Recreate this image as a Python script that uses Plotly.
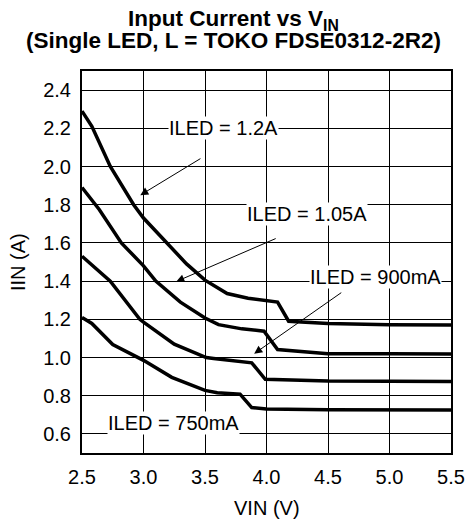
import plotly.graph_objects as go

# ---- data ----
vin_12 = [2.5, 2.58, 2.73, 2.92, 3.0, 3.19, 3.35, 3.5, 3.68, 3.85, 4.03, 4.09, 4.18, 4.5, 5.0, 5.5]
iin_12 = [2.29, 2.21, 2.0, 1.8, 1.73, 1.6, 1.49, 1.405, 1.335, 1.31, 1.294, 1.29, 1.19, 1.178, 1.172, 1.17]

vin_105 = [2.5, 2.64, 2.82, 3.0, 3.1, 3.3, 3.5, 3.61, 3.8, 3.98, 4.09, 4.5, 5.0, 5.5]
iin_105 = [1.89, 1.775, 1.6, 1.48, 1.40, 1.29, 1.207, 1.172, 1.15, 1.138, 1.042, 1.02, 1.019, 1.018]

vin_900 = [2.5, 2.58, 2.73, 2.97, 3.0, 3.25, 3.51, 3.57, 3.75, 3.88, 3.99, 4.5, 5.0, 5.5]
iin_900 = [1.53, 1.485, 1.4, 1.2, 1.185, 1.07, 1.0, 0.995, 0.98, 0.972, 0.886, 0.877, 0.876, 0.875]

vin_750 = [2.5, 2.58, 2.75, 2.96, 3.0, 3.23, 3.5, 3.6, 3.785, 3.88, 4.0, 4.5, 5.0, 5.5]
iin_750 = [1.21, 1.178, 1.068, 1.0, 0.985, 0.896, 0.828, 0.815, 0.808, 0.738, 0.73, 0.727, 0.726, 0.725]

series = [
    ("ILED = 1.2A", vin_12, iin_12),
    ("ILED = 1.05A", vin_105, iin_105),
    ("ILED = 900mA", vin_900, iin_900),
    ("ILED = 750mA", vin_750, iin_750),
]

x_ticks = [2.5, 3.0, 3.5, 4.0, 4.5, 5.0, 5.5]
x_tick_labels = ["2.5", "3.0", "3.5", "4.0", "4.5", "5.0", "5.5"]
y_ticks = [0.6, 0.8, 1.0, 1.2, 1.4, 1.6, 1.8, 2.0, 2.2, 2.4]
y_tick_labels = ["0.6", "0.8", "1.0", "1.2", "1.4", "1.6", "1.8", "2.0", "2.2", "2.4"]

title_line1 = "Input Current vs V<sub>IN</sub>"
title_line2 = "(Single LED, L = TOKO FDSE0312-2R2)"
x_title = "VIN (V)"
y_title = "IIN (A)"

# label text positions (x, y) and arrow (tail -> head), in data units
labels = [
    ("ILED = 1.2A", 3.648, 2.20),
    ("ILED = 1.05A", 4.326, 1.75),
    ("ILED = 900mA", 4.883, 1.42),
    ("ILED = 750mA", 3.246, 0.657),
]
arrows = [
    ((3.475, 2.046), (2.974, 1.85)),
    ((4.087, 1.626), (3.267, 1.398)),
    ((4.62, 1.345), (3.90, 1.02)),
]

FONT = "Liberation Sans, Arial, Helvetica, sans-serif"

fig = go.Figure()
for name, xs, ys in series:
    fig.add_trace(go.Scatter(x=xs, y=ys, mode="lines", name=name,
                             line=dict(color="black", width=3.5),
                             showlegend=False, hoverinfo="skip"))

for (tx, ty), (hx, hy) in arrows:
    fig.add_annotation(x=hx, y=hy, ax=tx, ay=ty, xref="x", yref="y",
                       axref="x", ayref="y", text="", showarrow=True,
                       arrowhead=2, arrowsize=1.6, arrowwidth=1,
                       arrowcolor="black")

for text, x, y in labels:
    fig.add_annotation(x=x, y=y, xref="x", yref="y", text=text,
                       showarrow=False, bgcolor="white", borderpad=0,
                       font=dict(family=FONT, size=20, color="black"))

# chart title (two lines) and axis titles as paper annotations
fig.add_annotation(x=0.4106, y=1.134, xref="paper", yref="paper",
                   text="<b>" + title_line1 + "</b>", showarrow=False,
                   xanchor="center", yanchor="middle",
                   font=dict(family=FONT, size=22.5, color="black"))
fig.add_annotation(x=0.4106, y=1.081, xref="paper", yref="paper",
                   text="<b>" + title_line2 + "</b>", showarrow=False,
                   xanchor="center", yanchor="middle",
                   font=dict(family=FONT, size=22.5, color="black"))
fig.add_annotation(x=0.5, y=-0.1427, xref="paper", yref="paper",
                   text=x_title, showarrow=False,
                   xanchor="center", yanchor="middle",
                   font=dict(family=FONT, size=20, color="black"))
fig.add_annotation(x=-0.1734, y=0.5, xref="paper", yref="paper",
                   text=y_title, showarrow=False, textangle=-90,
                   xanchor="center", yanchor="middle",
                   font=dict(family=FONT, size=20, color="black"))

fig.update_layout(
    width=467, height=521,
    margin=dict(l=82, r=16, t=71, b=68, autoexpand=False),
    paper_bgcolor="white", plot_bgcolor="white",
    font=dict(family=FONT, size=20, color="black"),
)
fig.update_xaxes(range=[2.5, 5.5], tickvals=x_ticks, ticktext=x_tick_labels,
                 showgrid=True, gridcolor="black", gridwidth=1,
                 showline=True, linecolor="black", linewidth=2, mirror=True,
                 ticks="", zeroline=False, automargin=False,
                 ticklabelstandoff=5,
                 tickfont=dict(family=FONT, size=20))
fig.update_yaxes(range=[0.5, 2.5], tickvals=y_ticks, ticktext=y_tick_labels,
                 showgrid=True, gridcolor="black", gridwidth=1,
                 showline=True, linecolor="black", linewidth=2, mirror=True,
                 ticks="", zeroline=False, automargin=False,
                 ticklabelstandoff=5,
                 tickfont=dict(family=FONT, size=20))

# remove the browser's default 8px body margin so the figure fills the window
fig.write_html("out.html",
               config={"displayModeBar": False, "staticPlot": True},
               post_script="document.body.style.margin='0';"
                           "document.body.style.overflow='hidden';")
